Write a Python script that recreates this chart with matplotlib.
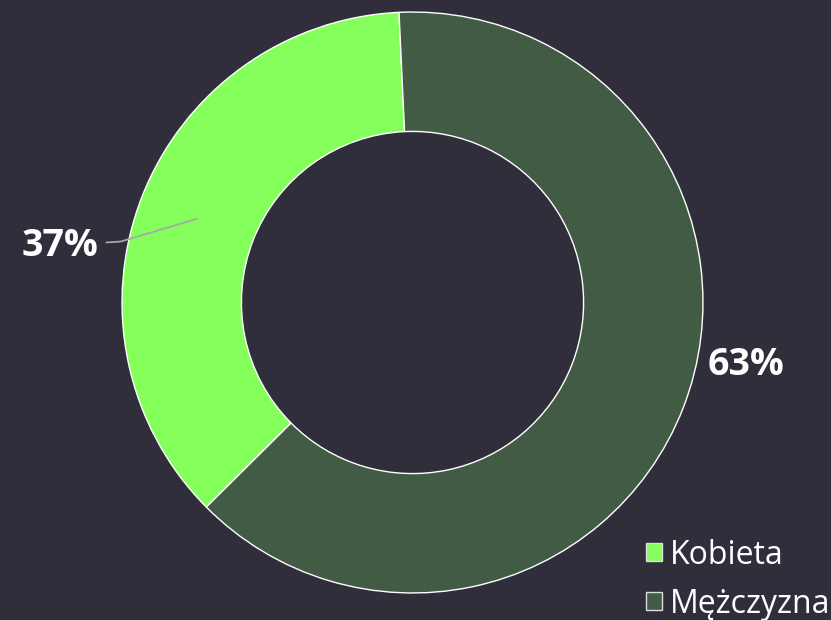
import matplotlib.pyplot as plt
import numpy as np

labels = ["Kobieta", "Mężczyzna"]
shares = [36.7, 63.3]
colors = ["#85FF5B", "#425B44"]
bg = "#302E3B"

plt.rcParams["font.family"] = ["Open Sans", "DejaVu Sans"]

fig = plt.figure(figsize=(8.31, 6.2), dpi=100, facecolor=bg)
ax = fig.add_axes([0.1468, 0.0436, 0.6992, 0.937])
ax.set_facecolor(bg)

wedges, _ = ax.pie(shares, colors=colors, startangle=92.66, counterclock=True,
                   wedgeprops=dict(width=0.411, edgecolor="white", linewidth=1))
ax.set_xlim(-1, 1)
ax.set_ylim(-1, 1)
ax.set_aspect("equal")
ax.axis("off")

pct = [f"{round(s)}%" for s in shares]

# Kobieta label with leader line
w = wedges[0]
mid = np.deg2rad((w.theta1 + w.theta2) / 2)
p0 = (0.795 * np.cos(mid), 0.795 * np.sin(mid))
a1 = mid + np.deg2rad(9.5)
p1 = (1.027 * np.cos(a1), 1.027 * np.sin(a1))
p2 = (p1[0] - 0.048, p1[1] - 0.003)
ax.plot([p0[0], p1[0], p2[0]], [p0[1], p1[1], p2[1]], color="#A8A8A8", lw=1.3,
        clip_on=False)
ax.text(p2[0] - 0.03, p2[1] - 0.012, pct[0], ha="right", va="center", color="white",
        fontsize=27, fontweight="bold", clip_on=False)

# Mężczyzna label
ax.text(1.015, -0.215, pct[1], ha="left", va="center", color="white",
        fontsize=27, fontweight="bold", clip_on=False)

leg = fig.legend(wedges, labels, loc="lower right", bbox_to_anchor=(1.003, -0.006),
                 frameon=False, fontsize=23, labelcolor="white",
                 handlelength=0.5, handleheight=0.5, handletextpad=0.25,
                 labelspacing=0.5, borderaxespad=0.0, borderpad=0.1)
for h in leg.legend_handles:
    h.set_edgecolor("#DDDDDD")

fig.savefig("out.png", dpi=100, facecolor=bg)
